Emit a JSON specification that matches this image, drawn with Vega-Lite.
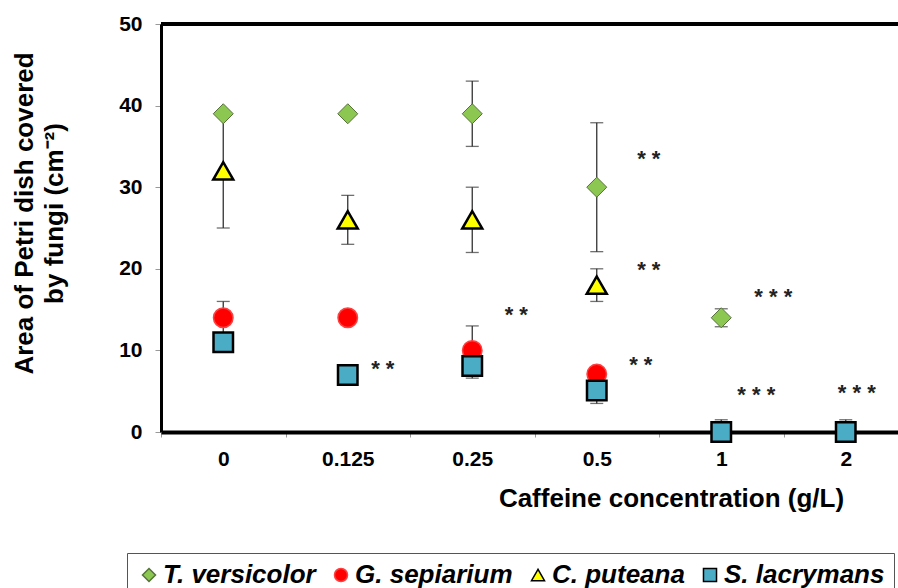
{
  "$schema": "https://vega.github.io/schema/vega-lite/v6.json",
  "width": 737,
  "height": 408,
  "autosize": {"type": "none"},
  "padding": {"left": 161, "top": 24, "right": 0, "bottom": 156},
  "config": {
    "font": "Liberation Sans",
    "view": {"stroke": null},
    "axis": {"labelFont": "Liberation Sans", "titleFont": "Liberation Sans", "labelFontWeight": "bold", "titleFontWeight": "bold", "labelColor": "#000", "titleColor": "#000", "grid": false},
    "legend": {
      "orient": "none", "legendX": -34, "legendY": 529, "direction": "horizontal",
      "strokeColor": "#555", "padding": 9, "symbolSize": 170, "symbolStrokeWidth": 1.5,
      "labelFont": "Liberation Sans", "labelFontSize": 26, "labelFontStyle": "italic", "labelFontWeight": "bold",
      "labelColor": "#000", "labelOffset": 1, "columnPadding": 12, "labelLimit": 400
    }
  },
  "datasets": {
    "pts": [
      {"series": "T. versicolor", "conc": "0", "value": 39},
      {"series": "T. versicolor", "conc": "0.125", "value": 39},
      {"series": "T. versicolor", "conc": "0.25", "value": 39},
      {"series": "T. versicolor", "conc": "0.5", "value": 30},
      {"series": "T. versicolor", "conc": "1", "value": 14},
      {"series": "G. sepiarium", "conc": "0", "value": 14},
      {"series": "G. sepiarium", "conc": "0.125", "value": 14},
      {"series": "G. sepiarium", "conc": "0.25", "value": 10},
      {"series": "G. sepiarium", "conc": "0.5", "value": 7.1},
      {"series": "C. puteana", "conc": "0", "value": 32},
      {"series": "C. puteana", "conc": "0.125", "value": 26},
      {"series": "C. puteana", "conc": "0.25", "value": 26},
      {"series": "C. puteana", "conc": "0.5", "value": 18},
      {"series": "S. lacrymans", "conc": "0", "value": 11},
      {"series": "S. lacrymans", "conc": "0.125", "value": 7},
      {"series": "S. lacrymans", "conc": "0.25", "value": 8.1},
      {"series": "S. lacrymans", "conc": "0.5", "value": 5.1},
      {"series": "S. lacrymans", "conc": "1", "value": 0},
      {"series": "S. lacrymans", "conc": "2", "value": 0}
    ],
    "err": [
      {"series": "C. puteana", "conc": "0", "lo": 25, "hi": 39},
      {"series": "G. sepiarium", "conc": "0", "lo": 12, "hi": 16},
      {"series": "C. puteana", "conc": "0.125", "lo": 23, "hi": 29},
      {"series": "T. versicolor", "conc": "0.25", "lo": 35, "hi": 43},
      {"series": "C. puteana", "conc": "0.25", "lo": 22, "hi": 30},
      {"series": "G. sepiarium", "conc": "0.25", "lo": 7, "hi": 13},
      {"series": "S. lacrymans", "conc": "0.25", "lo": 6.6, "hi": 9.4},
      {"series": "T. versicolor", "conc": "0.5", "lo": 22.1, "hi": 37.9},
      {"series": "C. puteana", "conc": "0.5", "lo": 16, "hi": 20},
      {"series": "S. lacrymans", "conc": "0.5", "lo": 3.5, "hi": 6.5},
      {"series": "T. versicolor", "conc": "1", "lo": 12.9, "hi": 15.1},
      {"series": "S. lacrymans", "conc": "1", "lo": 0, "hi": 1.5},
      {"series": "S. lacrymans", "conc": "2", "lo": 0, "hi": 1.5}
    ],
    "stars": [
      {"conc": "0.125", "y": 7.7, "label": "* *"},
      {"conc": "0.25", "y": 14.3, "label": "* *"},
      {"conc": "0.5", "y": 33.5, "label": "* *"},
      {"conc": "0.5", "y": 19.9, "label": "* *"},
      {"conc": "0.5", "y": 8.2, "label": "* *"},
      {"conc": "1", "y": 16.5, "label": "* * *"},
      {"conc": "1", "y": 4.5, "label": "* * *"},
      {"conc": "2", "y": 4.8, "label": "* * *"}
    ]
  },
  "layer": [
    {
      "data": {"name": "err"},
      "mark": {"type": "rule", "color": "#333", "strokeWidth": 1.3},
      "encoding": {
        "x": {"field": "conc", "type": "ordinal", "sort": ["0", "0.125", "0.25", "0.5", "1", "2"],
              "scale": {"type": "band", "range": [0, 747], "paddingInner": 0, "paddingOuter": 0},
              "axis": {"domainColor": "#000", "domainWidth": 4, "tickColor": "#999", "tickSize": 5, "tickWidth": 1, "tickBand": "extent",
                       "labelAngle": 0, "labelFontSize": 21, "labelPadding": 11,
                       "title": "Caffeine concentration (g/L)", "titleFontSize": 26, "titleX": 510, "titleY": 74, "titleBaseline": "alphabetic", "titleAlign": "center"}},
        "y": {"field": "lo", "type": "quantitative", "scale": {"domain": [0, 50], "nice": false},
              "axis": {"values": [0, 10, 20, 30, 40, 50], "domainColor": "#000", "domainWidth": 3, "tickColor": "#999", "tickSize": 6, "tickWidth": 1,
                       "labelFontSize": 21, "labelPadding": 13,
                       "title": ["Area of Petri dish covered", "by fungi (cm⁻²)"], "titleFontSize": 26, "titleX": -129, "titleY": 189,
                       "titleAngle": -90, "titleAlign": "center", "titleBaseline": "alphabetic", "titleLineHeight": 30}},
        "y2": {"field": "hi"}
      }
    },
    {
      "data": {"name": "err"},
      "mark": {"type": "tick", "color": "#333", "size": 13, "thickness": 1.3},
      "encoding": {
        "x": {"field": "conc", "type": "ordinal", "sort": ["0", "0.125", "0.25", "0.5", "1", "2"]},
        "y": {"field": "lo", "type": "quantitative"}
      }
    },
    {
      "data": {"name": "err"},
      "mark": {"type": "tick", "color": "#333", "size": 13, "thickness": 1.3},
      "encoding": {
        "x": {"field": "conc", "type": "ordinal", "sort": ["0", "0.125", "0.25", "0.5", "1", "2"]},
        "y": {"field": "hi", "type": "quantitative"}
      }
    },
    {
      "data": {"name": "pts"},
      "transform": [{"filter": "datum.series === 'T. versicolor'"}],
      "mark": {"type": "point", "filled": true, "size": 400, "strokeWidth": 1, "opacity": 1},
      "encoding": {
        "x": {"field": "conc", "type": "ordinal", "sort": ["0", "0.125", "0.25", "0.5", "1", "2"]},
        "y": {"field": "value", "type": "quantitative"},
        "fill": {"field": "series", "type": "nominal", "title": null, "scale": {"domain": ["T. versicolor", "G. sepiarium", "C. puteana", "S. lacrymans"], "range": ["#8CC751", "#FF0000", "#FFFF00", "#4BACC6"]}},
        "shape": {"field": "series", "type": "nominal", "title": null, "scale": {"domain": ["T. versicolor", "G. sepiarium", "C. puteana", "S. lacrymans"], "range": ["diamond", "circle", "triangle-up", "square"]}},
        "stroke": {"field": "series", "type": "nominal", "title": null, "scale": {"domain": ["T. versicolor", "G. sepiarium", "C. puteana", "S. lacrymans"], "range": ["#56733a", "#ff4040", "#000000", "#000000"]}}
      }
    },
    {
      "data": {"name": "pts"},
      "transform": [{"filter": "datum.series === 'G. sepiarium'"}],
      "mark": {"type": "point", "filled": true, "size": 380, "strokeWidth": 1.5, "opacity": 1},
      "encoding": {
        "x": {"field": "conc", "type": "ordinal", "sort": ["0", "0.125", "0.25", "0.5", "1", "2"]},
        "y": {"field": "value", "type": "quantitative"},
        "fill": {"field": "series", "type": "nominal", "title": null},
        "shape": {"field": "series", "type": "nominal", "title": null},
        "stroke": {"field": "series", "type": "nominal", "title": null}
      }
    },
    {
      "data": {"name": "pts"},
      "transform": [{"filter": "datum.series === 'C. puteana'"}],
      "mark": {"type": "point", "filled": true, "size": 400, "strokeWidth": 2.5, "opacity": 1},
      "encoding": {
        "x": {"field": "conc", "type": "ordinal", "sort": ["0", "0.125", "0.25", "0.5", "1", "2"]},
        "y": {"field": "value", "type": "quantitative"},
        "fill": {"field": "series", "type": "nominal", "title": null},
        "shape": {"field": "series", "type": "nominal", "title": null},
        "stroke": {"field": "series", "type": "nominal", "title": null}
      }
    },
    {
      "data": {"name": "pts"},
      "transform": [{"filter": "datum.series === 'S. lacrymans'"}],
      "mark": {"type": "point", "filled": true, "size": 380, "strokeWidth": 2.5, "opacity": 1},
      "encoding": {
        "x": {"field": "conc", "type": "ordinal", "sort": ["0", "0.125", "0.25", "0.5", "1", "2"]},
        "y": {"field": "value", "type": "quantitative"},
        "fill": {"field": "series", "type": "nominal", "title": null},
        "shape": {"field": "series", "type": "nominal", "title": null},
        "stroke": {"field": "series", "type": "nominal", "title": null}
      }
    },
    {
      "data": {"name": "stars"},
      "transform": [{"filter": "datum.conc === '0.125' || (datum.conc === '1' && datum.y < 10)"}],
      "mark": {"type": "text", "dx": 35, "fontSize": 22, "fontWeight": "bold", "color": "#222", "baseline": "middle", "align": "center"},
      "encoding": {
        "x": {"field": "conc", "type": "ordinal", "sort": ["0", "0.125", "0.25", "0.5", "1", "2"]},
        "y": {"field": "y", "type": "quantitative"},
        "text": {"field": "label"}
      }
    },
    {
      "data": {"name": "stars"},
      "transform": [{"filter": "datum.conc === '0.25' || (datum.conc === '0.5' && datum.y < 10)"}],
      "mark": {"type": "text", "dx": 44, "fontSize": 22, "fontWeight": "bold", "color": "#222", "baseline": "middle", "align": "center"},
      "encoding": {
        "x": {"field": "conc", "type": "ordinal", "sort": ["0", "0.125", "0.25", "0.5", "1", "2"]},
        "y": {"field": "y", "type": "quantitative"},
        "text": {"field": "label"}
      }
    },
    {
      "data": {"name": "stars"},
      "transform": [{"filter": "(datum.conc === '0.5' || datum.conc === '1') && datum.y >= 10"}],
      "mark": {"type": "text", "dx": 52, "fontSize": 22, "fontWeight": "bold", "color": "#222", "baseline": "middle", "align": "center"},
      "encoding": {
        "x": {"field": "conc", "type": "ordinal", "sort": ["0", "0.125", "0.25", "0.5", "1", "2"]},
        "y": {"field": "y", "type": "quantitative"},
        "text": {"field": "label"}
      }
    },
    {
      "data": {"name": "stars"},
      "transform": [{"filter": "datum.conc === '2'"}],
      "mark": {"type": "text", "dx": 11, "fontSize": 22, "fontWeight": "bold", "color": "#222", "baseline": "middle", "align": "center"},
      "encoding": {
        "x": {"field": "conc", "type": "ordinal", "sort": ["0", "0.125", "0.25", "0.5", "1", "2"]},
        "y": {"field": "y", "type": "quantitative"},
        "text": {"field": "label"}
      }
    },
    {
      "data": {"values": [{"top": 50}]},
      "mark": {"type": "rule", "color": "#000", "strokeWidth": 4},
      "encoding": {"y": {"field": "top", "type": "quantitative"}}
    }
  ]
}
